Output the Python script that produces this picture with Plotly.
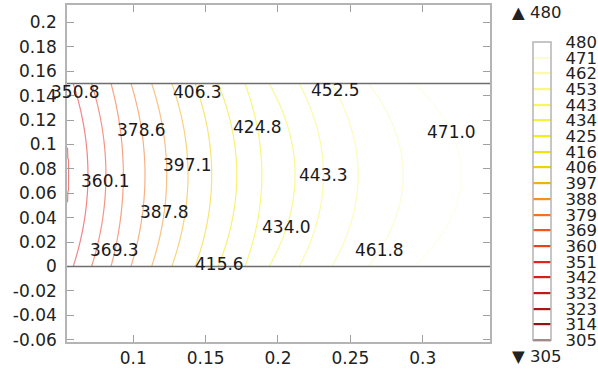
import numpy as np
import plotly.graph_objects as go

# ---------------- data ----------------
level_min = 304.5955
level_step = 9.2465
n_levels = 20
levels = [level_min + k * level_step for k in range(n_levels)]

# contour lines visible inside the domain: levels[4] .. levels[18]
line_levels = levels[4:19]
# x where each contour crosses the mid-plane y = 0.075
x_center = [0.0551, 0.0687, 0.0811, 0.0931, 0.1081, 0.1231, 0.1378, 0.1542,
            0.1715, 0.1888, 0.2118, 0.2314, 0.2554, 0.2865, 0.3271]
# x where each contour meets the boundaries y = 0 and y = 0.15
x_edge = [0.0446, 0.0585, 0.0712, 0.0846, 0.0984, 0.1127, 0.1266, 0.1427,
          0.1586, 0.1772, 0.1938, 0.2146, 0.2372, 0.2625, 0.2948]
domain_y = [0.0, 0.15]

# y position of the inline label of each labelled contour (350.8 ... 471.0)
label_y = [0.1434, 0.0697, 0.0131, 0.112, 0.0446, 0.0834, 0.1434, 0.0022,
           0.1144, 0.0323, 0.0752, 0.1443, 0.0131, 0.1102]

x_tick_vals = [0.1, 0.15, 0.2, 0.25, 0.3]
x_tick_text = ["0.1", "0.15", "0.2", "0.25", "0.3"]
y_tick_vals = [-0.06, -0.04, -0.02, 0, 0.02, 0.04, 0.06, 0.08, 0.1, 0.12, 0.14, 0.16, 0.18, 0.2]
y_tick_text = ["-0.06", "-0.04", "-0.02", "0", "0.02", "0.04", "0.06", "0.08", "0.1",
               "0.12", "0.14", "0.16", "0.18", "0.2"]

x_range = [0.0542, 0.3465]
y_range = [-0.0619, 0.2143]

# ---------------- build the field on a grid ----------------
y_mid = 0.5 * (domain_y[0] + domain_y[1])
half = 0.5 * (domain_y[1] - domain_y[0])
xe = np.array(x_edge)
xc = np.array(x_center)
xs = np.linspace(x_range[0], x_range[1], 500)
ys = np.linspace(domain_y[0], domain_y[1], 121)


def crossing(y):
    s = (y - y_mid) / half
    return xe + (xc - xe) * (1 - s * s)


z = []
for yv in ys:
    z.append(np.interp(xs, crossing(yv), line_levels,
                       left=line_levels[0] - 1, right=line_levels[-1] + 1))
z = np.array(z)

zmin, zmax = levels[0], levels[-1]
cs_colors = ["#6b0f0f", "#8c1414", "#a81616", "#c41818", "#dc1a1a", "#ea2020",
             "#f03c22", "#f25522", "#f27222", "#f29020", "#f2b010", "#f2cf00",
             "#f2e400", "#f5f010", "#f5f238", "#f6f660", "#f8f888", "#fafab0",
             "#fcfcd8", "#ffffff"]
colorscale = [[i / (len(cs_colors) - 1), c] for i, c in enumerate(cs_colors)]

FONT = "DejaVu Sans"
FS = 17
FS_CB = 16.5

contours = dict(start=zmin, end=zmax + 1e-6, size=level_step,
                coloring="lines", showlabels=False)

fig = go.Figure()
# visible contour lines (thin, light)
fig.add_trace(go.Contour(
    x=xs, y=ys, z=z,
    zmin=zmin, zmax=zmax,
    colorscale=colorscale,
    contours=contours,
    line=dict(width=1.2, smoothing=1),
    opacity=0.55,
    hoverinfo="skip",
    showscale=False,
))
# same field, only used to draw the colour legend with bolder level marks
fig.add_trace(go.Contour(
    x=xs, y=ys, z=z,
    zmin=zmin, zmax=zmax,
    colorscale=colorscale,
    contours=contours,
    line=dict(width=2.2, smoothing=1),
    opacity=0,
    hoverinfo="skip",
    colorbar=dict(
        x=(533.3 - 67) / 423, xanchor="left", xpad=0,
        y=(342 - 191.2) / 337, yanchor="middle", ypad=0,
        len=298, lenmode="pixels", thickness=18,
        outlinecolor="#b4b4b4", outlinewidth=1.5,
        tickmode="array", tickvals=levels,
        ticktext=[f"{v:.0f}" for v in levels],
        ticks="outside", ticklen=11, tickcolor="rgba(0,0,0,0)",
        tickfont=dict(family=FONT, size=FS_CB, color="#222"),
    ),
))

# domain boundaries
for yb in domain_y:
    fig.add_shape(type="line", xref="x domain", x0=0, x1=1, yref="y", y0=yb, y1=yb,
                  line=dict(color="#6e6e6e", width=1.6), layer="above")

# inline contour labels
for j, yl in enumerate(label_y):
    k = j + 1
    s = (yl - y_mid) / half
    xl = x_edge[k] + (x_center[k] - x_edge[k]) * (1 - s * s)
    fig.add_annotation(x=xl, y=yl, xref="x", yref="y", text=f"{line_levels[k]:.1f}",
                       showarrow=False, font=dict(family=FONT, size=FS, color="#1a1a1a"),
                       xanchor="center", yanchor="middle")

# min / max markers of the colour legend
fig.add_annotation(x=(510 - 67) / 423, y=(342 - 12.7) / 337, xref="paper", yref="paper",
                   text=f"▲ {levels[-1]:.0f}", showarrow=False, xanchor="left", yanchor="middle",
                   font=dict(family=FONT, size=FS_CB, color="#222"))
fig.add_annotation(x=(510 - 67) / 423, y=(342 - 356) / 337, xref="paper", yref="paper",
                   text=f"▼ {levels[0]:.0f}", showarrow=False, xanchor="left", yanchor="middle",
                   font=dict(family=FONT, size=FS_CB, color="#222"))

axis_common = dict(showgrid=False, zeroline=False, showline=True, linecolor="#b4b4b4",
                   linewidth=1.5, mirror="ticks", ticks="inside", ticklen=7,
                   tickcolor="#a0a0a0", tickwidth=1.2,
                   tickfont=dict(family=FONT, size=FS, color="#222"))
fig.update_xaxes(range=x_range, tickmode="array", tickvals=x_tick_vals, ticktext=x_tick_text,
                 ticklabelstandoff=0, **axis_common)
fig.update_yaxes(range=y_range, tickmode="array", tickvals=y_tick_vals, ticktext=y_tick_text,
                 ticklabelstandoff=5, **axis_common)

fig.update_layout(
    width=598, height=372,
    margin=dict(l=67, r=108, t=5, b=30, autoexpand=False),
    paper_bgcolor="white", plot_bgcolor="white",
    showlegend=False,
    font=dict(family=FONT, size=FS, color="#222"),
)

fig.write_html("out.html", config={"displayModeBar": False},
               post_script="document.body.style.margin='0px';document.body.style.overflow='hidden';")
